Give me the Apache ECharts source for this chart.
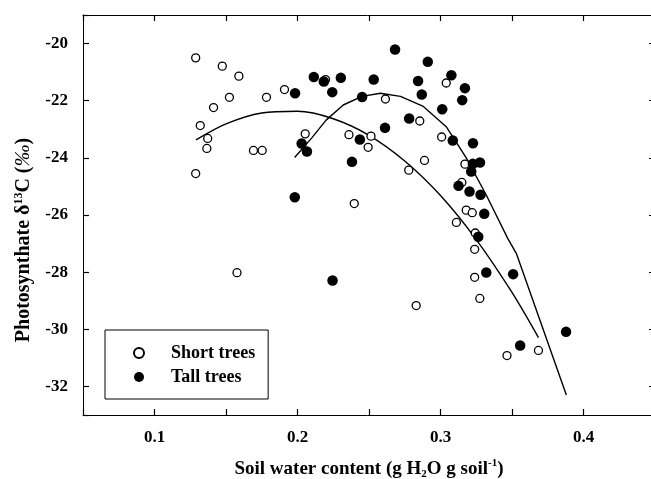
<!DOCTYPE html>
<html>
<head>
<meta charset="utf-8">
<script src="https://cdn.jsdelivr.net/npm/echarts@6/dist/echarts.min.js"></script>
<style>
  html, body { margin: 0; padding: 0; background: #fff; }
  #chart { width: 651px; height: 479px; }
</style>
</head>
<body>
<div id="chart"></div>
<script>
// Short trees: soil water content (g H2O g soil-1) and photosynthate δ13C (‰)
const shortWater = [0.1288, 0.1474, 0.1590, 0.1524, 0.1413, 0.1320, 0.1372, 0.1366, 0.1288, 0.1692,
  0.1753, 0.1577, 0.1783, 0.1909, 0.2054, 0.2196, 0.2360, 0.2397, 0.2514, 0.2494,
  0.2615, 0.2855, 0.3040, 0.3008, 0.2888, 0.2778, 0.3171, 0.3149, 0.3180, 0.3222,
  0.3111, 0.3243, 0.3239, 0.3239, 0.3275, 0.2830, 0.3465, 0.3685];
const shortD13C = [-20.50, -20.79, -21.14, -21.88, -22.24, -22.87, -23.32, -23.67, -24.55, -23.74,
  -23.74, -28.02, -21.88, -21.61, -23.16, -21.26, -23.19, -25.60, -23.24, -23.63,
  -21.94, -22.71, -21.38, -23.27, -24.09, -24.43, -24.22, -24.86, -25.83, -25.92,
  -26.26, -26.63, -27.20, -28.18, -28.92, -29.17, -30.92, -30.74];

// Tall trees
const tallWater = [0.1983, 0.2114, 0.2184, 0.2243, 0.2303, 0.2029, 0.2066, 0.1981, 0.2245, 0.2381,
  0.2452, 0.2533, 0.2436, 0.2612, 0.2682, 0.2911, 0.2843, 0.3076, 0.3171, 0.2869,
  0.3152, 0.3012, 0.2781, 0.3086, 0.3227, 0.3226, 0.3276, 0.3215, 0.3126, 0.3203,
  0.3280, 0.3306, 0.3264, 0.3320, 0.3508, 0.3557, 0.3878];
const tallD13C = [-21.74, -21.17, -21.33, -21.70, -21.20, -23.50, -23.78, -25.38, -28.29, -24.14,
  -21.87, -21.26, -23.36, -22.95, -20.21, -20.64, -21.31, -21.11, -21.56, -21.78,
  -21.98, -22.30, -22.62, -23.39, -23.49, -24.21, -24.16, -24.48, -24.98, -25.18,
  -25.29, -25.96, -26.76, -28.01, -28.07, -30.57, -30.09];

// Fitted curves (vertices of the drawn polylines)
const shortFitWater = [0.129, 0.150, 0.175, 0.200, 0.225, 0.250, 0.275, 0.300, 0.325, 0.350, 0.3685];
const shortFitD13C = [-23.37, -22.81, -22.43, -22.37, -22.63, -23.21, -24.11, -25.32, -26.86, -28.71, -30.29];
const tallFitWater = [0.198, 0.210, 0.220, 0.232, 0.245, 0.258, 0.272, 0.288, 0.304, 0.318, 0.332, 0.347, 0.353, 0.388];
const tallFitD13C = [-23.99, -23.30, -22.68, -22.15, -21.85, -21.74, -21.85, -22.20, -22.91, -24.00, -25.30, -26.82, -27.34, -32.30];

// Axis ranges, tick steps and labelled values
const xRange = [0.05, 0.45];
const xTickStep = 0.05;
const xLabelValues = [0.1, 0.2, 0.3, 0.4];
const yRange = [-33, -19];
const yTickStep = 2;

const zip = (xs, ys) => xs.map((x, i) => [x, ys[i]]);

const FONT = 'Liberation Serif';
const baseText = { fontFamily: FONT, fontWeight: 'bold', color: '#000' };

function xLabel(v) {
  const hit = xLabelValues.find(t => Math.abs(t - v) < 1e-6);
  return hit === undefined ? '' : hit.toFixed(1);
}
function yLabel(v) {
  const r = Math.round(v);
  return (Math.abs(v - r) < 1e-6 && r % yTickStep === 0) ? String(r) : '';
}

function xAxisDef(position, withLabels) {
  return {
    type: 'value', position, min: xRange[0], max: xRange[1], interval: xTickStep,
    axisLine: { show: true, onZero: false, lineStyle: { color: '#000', width: 1 } },
    axisTick: { show: true, inside: true, length: 6, lineStyle: { color: '#000', width: 1.2 } },
    axisLabel: withLabels ? {
      show: true, margin: 14,
      ...baseText, fontSize: 17, formatter: xLabel
    } : { show: false },
    splitLine: { show: false }
  };
}

function yAxisDef(position, withLabels) {
  return {
    type: 'value', position, min: yRange[0], max: yRange[1],
    minInterval: yTickStep, maxInterval: yTickStep, splitNumber: 7,
    axisLine: { show: true, onZero: false, lineStyle: { color: '#000', width: 1 } },
    axisTick: { show: true, inside: true, length: 6, lineStyle: { color: '#000', width: 1.2 } },
    axisLabel: withLabels ? {
      show: true, margin: 15,
      ...baseText, fontSize: 17, formatter: yLabel
    } : { show: false },
    splitLine: { show: false }
  };
}

const xMain = xAxisDef('bottom', true);
xMain.name = '{t|Soil water content (g H}{sub|2}{t|O g soil}{sup|-1}{t|)}';
xMain.nameLocation = 'middle';
xMain.nameGap = 43;
xMain.nameTextStyle = {
  rich: {
    t: { ...baseText, fontSize: 19, lineHeight: 22, verticalAlign: 'middle' },
    sub: { ...baseText, fontSize: 11, lineHeight: 22, verticalAlign: 'bottom' },
    sup: { ...baseText, fontSize: 11, lineHeight: 12, verticalAlign: 'top' }
  }
};

const yMain = yAxisDef('left', true);
yMain.name = '{t|Photosynthate δ}{sup|13}{t|C (}{pm|‰}{t|)}';
yMain.nameLocation = 'middle';
yMain.nameGap = 40;
yMain.nameTextStyle = {
  padding: [0, 50, 0, 0],
  rich: {
    t: { ...baseText, fontSize: 20, lineHeight: 22, verticalAlign: 'middle' },
    pm: { ...baseText, fontSize: 22, fontWeight: 'normal', fontStyle: 'italic', lineHeight: 22, verticalAlign: 'middle' },
    sup: { ...baseText, fontSize: 12, lineHeight: 12, verticalAlign: 'top' }
  }
};

const chart = echarts.init(document.getElementById('chart'), null, { renderer: 'canvas' });
chart.setOption({
  backgroundColor: '#fff',
  animation: false,
  grid: { left: 83, top: 15, width: 572, height: 400, outerBoundsMode: 'none' },
  xAxis: [xMain, xAxisDef('top', false)],
  yAxis: [yMain, yAxisDef('right', false)],
  legend: {
    data: ['Short trees', 'Tall trees'],
    orient: 'vertical',
    left: 105, top: 330,
    padding: [14, 13, 13, 28],
    itemGap: 6,
    itemWidth: 10, itemHeight: 10,
    borderColor: '#000', borderWidth: 1,
    backgroundColor: '#fff',
    textStyle: { ...baseText, fontSize: 18, lineHeight: 18, padding: [0, 0, 0, 22] }
  },
  series: [
    {
      name: 'Short fit', type: 'line', data: zip(shortFitWater, shortFitD13C),
      showSymbol: false, symbol: 'none', smooth: 0.3, z: 1,
      lineStyle: { color: '#000', width: 1.4 }
    },
    {
      name: 'Tall fit', type: 'line', data: zip(tallFitWater, tallFitD13C),
      showSymbol: false, symbol: 'none', smooth: false, z: 1,
      lineStyle: { color: '#000', width: 1.4 }
    },
    {
      name: 'Short trees', type: 'scatter', data: zip(shortWater, shortD13C),
      symbol: 'circle', symbolSize: 8, z: 2,
      itemStyle: { color: '#fff', borderColor: '#000', borderWidth: 1.3, opacity: 1 }
    },
    {
      name: 'Tall trees', type: 'scatter', data: zip(tallWater, tallD13C),
      symbol: 'circle', symbolSize: 10.5, z: 3,
      itemStyle: { color: '#000', borderColor: '#000', borderWidth: 0, opacity: 1 }
    }
  ]
});
</script>
</body>
</html>
